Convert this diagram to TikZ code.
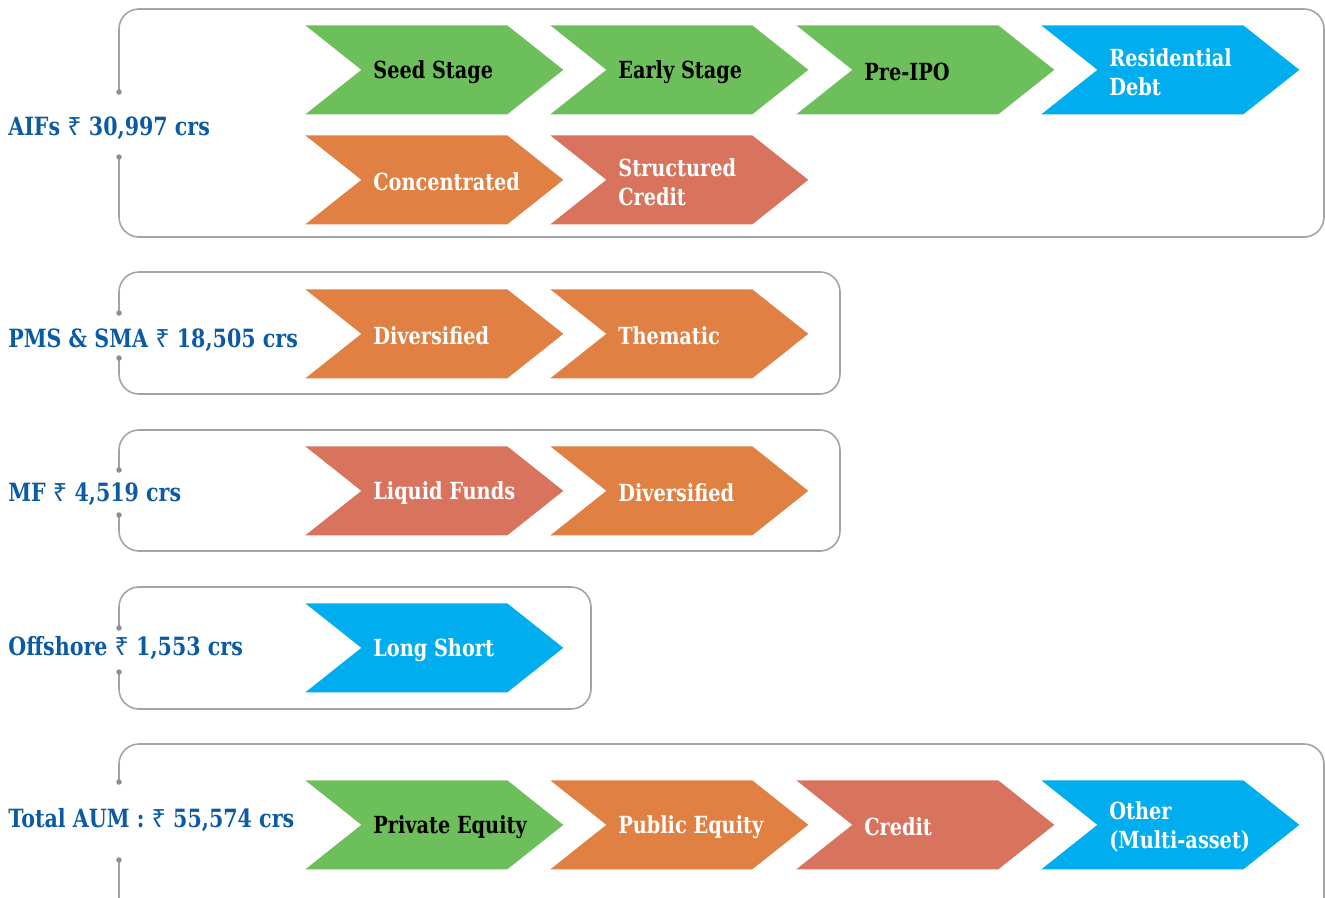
\documentclass[tikz,border=0pt]{standalone}
\usepackage{fontspec}
\setmainfont{DejaVu Serif}[FakeStretch=0.82]
\newfontfamily\rsfont{Noto Sans}
\usetikzlibrary{positioning}

\definecolor{chgreen}{HTML}{6DBF5C}
\definecolor{chblue}{HTML}{00AEEF}
\definecolor{chorange}{HTML}{E08042}
\definecolor{chsalmon}{HTML}{D8745E}
\definecolor{aumblue}{HTML}{0B5AA4}
\definecolor{framegray}{HTML}{A3A3A3}
\definecolor{pingray}{HTML}{8E8E8E}

\newcommand{\inr}{{\rsfont\mdseries ₹}}

\begin{document}
\begin{tikzpicture}[
  x=0.02cm, y=-0.02cm,
  frame/.style={draw=framegray, line width=0.9pt, rounded corners=0.4cm},
  pin/.style={fill=pingray},
  chev/.style={minimum width=5.16cm, minimum height=1.78cm, inner sep=0pt,
    anchor=north west,
    path picture={\fill[#1] (path picture bounding box.north west)
      -- ([xshift=-1.12cm]path picture bounding box.north east)
      -- (path picture bounding box.east)
      -- ([xshift=-1.12cm]path picture bounding box.south east)
      -- (path picture bounding box.south west)
      -- ([xshift=1.12cm]path picture bounding box.west) -- cycle;}},
  ctxt/.style={font=\fontsize{13.4}{16.4}\selectfont\bfseries, text=white,
    align=left, inner sep=0pt, yshift=-0.04cm},
  dark/.style={text=black},
  amount/.style={font=\fontsize{14.3}{17}\selectfont\bfseries, text=aumblue,
    anchor=west, inner sep=0pt, yshift=-0.04cm}
]
  \useasboundingbox (0,0) rectangle (1325,897);
  \clip (0,0) rectangle (1325,897);

  % frames, open on the left where the amount sits
  \draw[frame] (119,157) -- (119,237) -- (1324,237) -- (1324,9) -- (119,9) -- (119,92);
  \draw[frame] (119,358) -- (119,394) -- (840,394) -- (840,272) -- (119,272) -- (119,313);
  \draw[frame] (119,515) -- (119,551) -- (840,551) -- (840,430) -- (119,430) -- (119,470);
  \draw[frame] (119,672) -- (119,709) -- (591,709) -- (591,587) -- (119,587) -- (119,628);
  \draw[frame] (119,860) -- (119,940) -- (1324,940) -- (1324,744) -- (119,744) -- (119,782);
  \foreach \y in {92,157,313,358,470,515,628,672,782,860}
    \fill[pin] (119,\y) circle (0.055cm);

  % amounts
  \node[amount] (aif) at (8,126) {AIFs \inr\ 30,997 crs};
  \node[amount] (pms) at (8,338) {PMS \& SMA \inr\ 18,505 crs};
  \node[amount] (mf)  at (8,492) {MF \inr\ 4,519 crs};
  \node[amount] (off) at (8,646) {Offshore \inr\ 1,553 crs};
  \node[amount] (tot) at (8,818) {Total AUM : \inr\ 55,574 crs};

  % AIFs
  \node[chev=chgreen] (seed) at (305,25) {};
  \node[ctxt, dark, right=1.36cm of seed.west] (seed-t) {Seed Stage};
  \node[chev=chgreen] (early) at (550,25) {};
  \node[ctxt, dark, right=1.36cm of early.west] (early-t) {Early Stage};
  \node[chev=chgreen] (preipo) at (796,25) {};
  \node[ctxt, dark, right=1.36cm of preipo.west] (preipo-t) {Pre-IPO};
  \node[chev=chblue] (resi) at (1041,25) {};
  \node[ctxt, right=1.36cm of resi.west] (resi-t) {Residential\\Debt};
  \node[chev=chorange] (conc) at (305,135) {};
  \node[ctxt, right=1.36cm of conc.west] (conc-t) {Concentrated};
  \node[chev=chsalmon] (struc) at (550,135) {};
  \node[ctxt, right=1.36cm of struc.west] (struc-t) {Structured\\Credit};

  % PMS & SMA
  \node[chev=chorange] (pdiv) at (305,289) {};
  \node[ctxt, right=1.36cm of pdiv.west] (pdiv-t) {Diversified};
  \node[chev=chorange] (them) at (550,289) {};
  \node[ctxt, right=1.36cm of them.west] (them-t) {Thematic};

  % MF
  \node[chev=chsalmon] (liq) at (305,446) {};
  \node[ctxt, right=1.36cm of liq.west] (liq-t) {Liquid Funds};
  \node[chev=chorange] (mdiv) at (550,446) {};
  \node[ctxt, right=1.36cm of mdiv.west] (mdiv-t) {Diversified};

  % Offshore
  \node[chev=chblue] (lsh) at (305,603) {};
  \node[ctxt, right=1.36cm of lsh.west] (lsh-t) {Long Short};

  % Total AUM
  \node[chev=chgreen] (pe) at (305,780) {};
  \node[ctxt, dark, right=1.36cm of pe.west] (pe-t) {Private Equity};
  \node[chev=chorange] (pube) at (550,780) {};
  \node[ctxt, right=1.36cm of pube.west] (pube-t) {Public Equity};
  \node[chev=chsalmon] (cred) at (796,780) {};
  \node[ctxt, right=1.36cm of cred.west] (cred-t) {Credit};
  \node[chev=chblue] (oth) at (1041,780) {};
  \node[ctxt, right=1.36cm of oth.west] (oth-t) {Other\\(Multi-asset)};
\end{tikzpicture}
\end{document}
